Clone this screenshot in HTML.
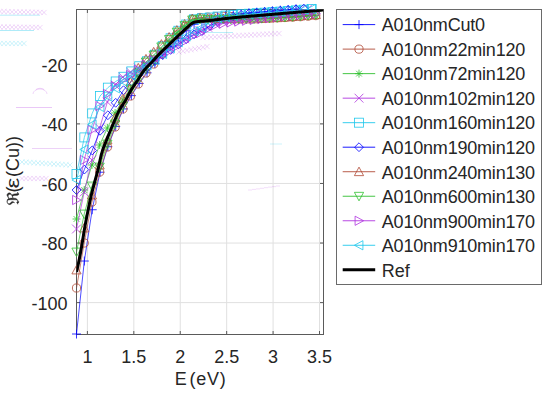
<!DOCTYPE html><html><head><meta charset="utf-8"><style>html,body{margin:0;padding:0;background:#fff;}svg{display:block;} text{font-family:"Liberation Sans",sans-serif;fill:#262626;}</style></head><body>
<svg width="550" height="396" viewBox="0 0 550 396">
<rect width="550" height="396" fill="#fff"/>
<path d="M87.40 9.5V334.5M133.82 9.5V334.5M180.24 9.5V334.5M226.66 9.5V334.5M273.08 9.5V334.5M319.50 9.5V334.5M76.5 64.30H323.5M76.5 123.88H323.5M76.5 183.46H323.5M76.5 243.04H323.5M76.5 302.62H323.5" stroke="#e0e0e0" stroke-width="1" fill="none"/>
<path d="M87.40 334.5V331.0M87.40 9.5V13.0M133.82 334.5V331.0M133.82 9.5V13.0M180.24 334.5V331.0M180.24 9.5V13.0M226.66 334.5V331.0M226.66 9.5V13.0M273.08 334.5V331.0M273.08 9.5V13.0M319.50 334.5V331.0M319.50 9.5V13.0M76.5 64.30H80.0M323.5 64.30H320.0M76.5 123.88H80.0M323.5 123.88H320.0M76.5 183.46H80.0M323.5 183.46H320.0M76.5 243.04H80.0M323.5 243.04H320.0M76.5 302.62H80.0M323.5 302.62H320.0" stroke="#5a5a5a" stroke-width="1" fill="none"/>
<rect x="76.5" y="9.5" width="247.00" height="325.00" stroke="#5a5a5a" stroke-width="1" fill="none"/>
<path d="M-2.6 8.9L2.6 14.1M-2.6 14.1L2.6 8.9M1.4 9.0L6.6 14.2M1.4 14.2L6.6 9.0M5.4 9.1L10.6 14.3M5.4 14.3L10.6 9.1M9.4 9.2L14.6 14.4M9.4 14.4L14.6 9.2M13.4 9.3L18.6 14.5M13.4 14.5L18.6 9.3M17.4 9.4L22.6 14.6M17.4 14.6L22.6 9.4M21.4 9.4L26.6 14.6M21.4 14.6L26.6 9.4M25.4 9.5L30.6 14.7M25.4 14.7L30.6 9.5M29.4 9.6L34.6 14.8M29.4 14.8L34.6 9.6M33.4 9.7L38.6 14.9M33.4 14.9L38.6 9.7M37.4 9.8L42.6 15.0M37.4 15.0L42.6 9.8M41.4 9.9L46.6 15.1M41.4 15.1L46.6 9.9" stroke="#b034e0" stroke-width="0.9" fill="none" opacity="0.22"/>
<path d="M0.0 15.2H4.0M4.0 15.2H8.0M8.0 15.2H12.0M12.0 15.2H16.0M16.0 15.2H20.0M20.0 15.2H24.0M24.0 15.2H28.0M28.0 15.2H32.0M32.0 15.2H36.0M36.0 15.2H40.0" stroke="#20c8ec" stroke-width="0.9" fill="none" opacity="0.35"/>
<path d="M-2.6 24.4L2.6 29.6M-2.6 29.6L2.6 24.4M1.4 24.4L6.6 29.7M1.4 29.7L6.6 24.4M5.4 24.5L10.6 29.7M5.4 29.7L10.6 24.5M9.4 24.5L14.6 29.8M9.4 29.8L14.6 24.5M13.4 24.6L18.6 29.8M13.4 29.8L18.6 24.6M17.4 24.6L22.6 29.9M17.4 29.9L22.6 24.6M21.4 24.7L26.6 29.9M21.4 29.9L26.6 24.7M25.4 24.8L30.6 30.0M25.4 30.0L30.6 24.8M29.4 24.8L34.6 30.0M29.4 30.0L34.6 24.8M33.4 24.8L38.6 30.1M33.4 30.1L38.6 24.8M37.4 24.9L42.6 30.1M37.4 30.1L42.6 24.9" stroke="#b034e0" stroke-width="0.9" fill="none" opacity="0.22"/>
<path d="M-2.0 30.5H2.0M2.0 30.5H6.0M6.0 30.5H10.0M10.0 30.5H14.0M14.0 30.5H18.0M18.0 30.5H22.0M22.0 30.5H26.0M26.0 30.5H30.0M30.0 30.5H34.0" stroke="#20c8ec" stroke-width="0.9" fill="none" opacity="0.4"/>
<path d="M-2.6 40.9L2.6 46.1M-2.6 46.1L2.6 40.9M1.4 40.9L6.6 46.1M1.4 46.1L6.6 40.9M5.4 40.9L10.6 46.1M5.4 46.1L10.6 40.9M9.4 40.9L14.6 46.1M9.4 46.1L14.6 40.9M13.4 40.9L18.6 46.1M13.4 46.1L18.6 40.9M17.4 40.9L22.6 46.1M17.4 46.1L22.6 40.9M21.4 40.9L26.6 46.1M21.4 46.1L26.6 40.9" stroke="#20c8ec" stroke-width="0.9" fill="none" opacity="0.25"/>
<path d="M200.4 34.9L205.6 40.1M200.4 40.1L205.6 34.9M204.4 34.7L209.6 39.9M204.4 39.9L209.6 34.7M208.4 34.5L213.6 39.7M208.4 39.7L213.6 34.5M212.4 34.3L217.6 39.5M212.4 39.5L217.6 34.3M216.4 34.1L221.6 39.3M216.4 39.3L221.6 34.1M220.4 33.8L225.6 39.0M220.4 39.0L225.6 33.8M224.4 33.6L229.6 38.8M224.4 38.8L229.6 33.6M228.4 33.4L233.6 38.6M228.4 38.6L233.6 33.4M232.4 33.2L237.6 38.4M232.4 38.4L237.6 33.2M236.4 33.0L241.6 38.2M236.4 38.2L241.6 33.0M240.4 32.8L245.6 38.0M240.4 38.0L245.6 32.8M244.4 32.6L249.6 37.8M244.4 37.8L249.6 32.6M248.4 32.4L253.6 37.6M248.4 37.6L253.6 32.4M252.4 32.2L257.6 37.4M252.4 37.4L257.6 32.2M256.4 32.0L261.6 37.2M256.4 37.2L261.6 32.0M260.4 31.7L265.6 36.9M260.4 36.9L265.6 31.7M264.4 31.5L269.6 36.7M264.4 36.7L269.6 31.5M268.4 31.3L273.6 36.5M268.4 36.5L273.6 31.3M272.4 31.1L277.6 36.3M272.4 36.3L277.6 31.1M276.4 30.9L281.6 36.1M276.4 36.1L281.6 30.9" stroke="#b034e0" stroke-width="0.9" fill="none" opacity="0.22"/>
<path d="M205.0 32.5H209.0M209.0 32.5H213.0M213.0 32.5H217.0M217.0 32.5H221.0M221.0 32.5H225.0M225.0 32.5H229.0M229.0 32.5H233.0" stroke="#20c8ec" stroke-width="0.9" fill="none" opacity="0.35"/>
<path d="M176.4 49.4L181.6 54.6M176.4 54.6L181.6 49.4M180.4 48.6L185.6 53.8M180.4 53.8L185.6 48.6M184.4 47.8L189.6 53.0M184.4 53.0L189.6 47.8M188.4 47.0L193.6 52.2M188.4 52.2L193.6 47.0M192.4 46.3L197.6 51.5M192.4 51.5L197.6 46.3M196.4 45.5L201.6 50.7M196.4 50.7L201.6 45.5M200.4 44.7L205.6 49.9M200.4 49.9L205.6 44.7M204.4 43.9L209.6 49.1M204.4 49.1L209.6 43.9" stroke="#b034e0" stroke-width="0.9" fill="none" opacity="0.22"/>
<path d="M16.0 107.5H20.0M20.0 107.5H24.0M24.0 107.5H28.0M28.0 107.5H32.0M32.0 107.5H36.0M36.0 107.5H40.0M40.0 107.5H44.0M44.0 107.5H48.0M48.0 107.5H52.0" stroke="#b034e0" stroke-width="0.9" fill="none" opacity="0.3"/>
<path d="M32.0 148.5H36.0M36.0 148.5H40.0M40.0 148.5H44.0M44.0 148.5H48.0M48.0 148.5H52.0M52.0 148.5H56.0M56.0 148.5H60.0M60.0 148.5H64.0M64.0 148.5H68.0M68.0 148.5H72.0" stroke="#b034e0" stroke-width="0.9" fill="none" opacity="0.25"/>
<path d="M19.4 159.4L24.6 164.6M19.4 164.6L24.6 159.4M23.4 159.7L28.6 164.8M23.4 164.8L28.6 159.7M27.4 159.9L32.6 165.1M27.4 165.1L32.6 159.9M31.4 160.2L36.6 165.3M31.4 165.3L36.6 160.2M35.4 160.4L40.6 165.6M35.4 165.6L40.6 160.4M39.4 160.7L44.6 165.8M39.4 165.8L44.6 160.7M43.4 160.9L48.6 166.1M43.4 166.1L48.6 160.9M47.4 161.2L52.6 166.3M47.4 166.3L52.6 161.2M51.4 161.4L56.6 166.6M51.4 166.6L56.6 161.4M55.4 161.7L60.6 166.8M55.4 166.8L60.6 161.7M59.4 161.9L64.6 167.1M59.4 167.1L64.6 161.9M63.4 162.2L68.6 167.3M63.4 167.3L68.6 162.2M67.4 162.4L72.6 167.6M67.4 167.6L72.6 162.4" stroke="#20c8ec" stroke-width="0.9" fill="none" opacity="0.25"/>
<path d="M19.4 175.9L24.6 181.1M19.4 181.1L24.6 175.9M23.4 175.9L28.6 181.1M23.4 181.1L28.6 175.9M27.4 175.9L32.6 181.1M27.4 181.1L32.6 175.9M31.4 175.9L36.6 181.1M31.4 181.1L36.6 175.9M35.4 175.9L40.6 181.1M35.4 181.1L40.6 175.9M39.4 175.9L44.6 181.1M39.4 181.1L44.6 175.9M43.4 175.9L48.6 181.1M43.4 181.1L48.6 175.9" stroke="#b034e0" stroke-width="0.9" fill="none" opacity="0.22"/>
<path d="M33 94A7 5 0 0 1 47 94M36 89.5A5 3 0 0 1 44 89.5" stroke="#b034e0" stroke-width="0.9" fill="none" opacity="0.22"/>
<path d="M248.0 190.0H252.0M252.0 189.4H256.0M256.0 188.9H260.0M260.0 188.3H264.0M264.0 187.7H268.0M268.0 187.1H272.0M272.0 186.6H276.0M276.0 186.0H280.0" stroke="#b034e0" stroke-width="0.9" fill="none" opacity="0.18"/>
<path d="M270.0 144.0H274.0M274.0 144.0H278.0M278.0 144.0H282.0" stroke="#20c8ec" stroke-width="0.9" fill="none" opacity="0.25"/>
<defs><clipPath id="c"><rect x="76.5" y="9.5" width="247.0" height="325.0"/></clipPath></defs>
<path d="M76.50 334.00L84.34 261.02L92.18 209.74L100.02 172.22L107.85 146.71L115.69 126.44L123.53 108.93L131.37 95.60L139.21 83.45L147.05 72.82L154.89 63.58L162.73 54.65L170.56 46.54L178.40 38.48L186.24 30.76L194.08 24.32L201.92 21.71L209.76 18.74L217.60 16.57L225.44 15.35L233.27 14.38L241.11 13.56L248.95 12.84L256.79 12.18L264.63 11.50L272.47 10.83L280.31 10.16L288.15 9.50L295.98 8.85L303.82 8.27L311.66 7.74L319.50 7.24" stroke="#0000ff" stroke-width="0.7" fill="none" clip-path="url(#c)"/>
<path d="M72.00 334.00H81.00M76.50 329.50V338.50" stroke="#0000ff" stroke-width="0.8" fill="none"/>
<path d="M79.84 261.02H88.84M84.34 256.52V265.52" stroke="#0000ff" stroke-width="0.8" fill="none"/>
<path d="M87.68 209.74H96.68M92.18 205.24V214.24" stroke="#0000ff" stroke-width="0.8" fill="none"/>
<path d="M95.52 172.22H104.52M100.02 167.72V176.72" stroke="#0000ff" stroke-width="0.8" fill="none"/>
<path d="M103.35 146.71H112.35M107.85 142.21V151.21" stroke="#0000ff" stroke-width="0.8" fill="none"/>
<path d="M111.19 126.44H120.19M115.69 121.94V130.94" stroke="#0000ff" stroke-width="0.8" fill="none"/>
<path d="M119.03 108.93H128.03M123.53 104.43V113.43" stroke="#0000ff" stroke-width="0.8" fill="none"/>
<path d="M126.87 95.60H135.87M131.37 91.10V100.10" stroke="#0000ff" stroke-width="0.8" fill="none"/>
<path d="M134.71 83.45H143.71M139.21 78.95V87.95" stroke="#0000ff" stroke-width="0.8" fill="none"/>
<path d="M142.55 72.82H151.55M147.05 68.32V77.32" stroke="#0000ff" stroke-width="0.8" fill="none"/>
<path d="M150.39 63.58H159.39M154.89 59.08V68.08" stroke="#0000ff" stroke-width="0.8" fill="none"/>
<path d="M158.23 54.65H167.23M162.73 50.15V59.15" stroke="#0000ff" stroke-width="0.8" fill="none"/>
<path d="M166.06 46.54H175.06M170.56 42.04V51.04" stroke="#0000ff" stroke-width="0.8" fill="none"/>
<path d="M173.90 38.48H182.90M178.40 33.98V42.98" stroke="#0000ff" stroke-width="0.8" fill="none"/>
<path d="M181.74 30.76H190.74M186.24 26.26V35.26" stroke="#0000ff" stroke-width="0.8" fill="none"/>
<path d="M189.58 24.32H198.58M194.08 19.82V28.82" stroke="#0000ff" stroke-width="0.8" fill="none"/>
<path d="M197.42 21.71H206.42M201.92 17.21V26.21" stroke="#0000ff" stroke-width="0.8" fill="none"/>
<path d="M205.26 18.74H214.26M209.76 14.24V23.24" stroke="#0000ff" stroke-width="0.8" fill="none"/>
<path d="M213.10 16.57H222.10M217.60 12.07V21.07" stroke="#0000ff" stroke-width="0.8" fill="none"/>
<path d="M220.94 15.35H229.94M225.44 10.85V19.85" stroke="#0000ff" stroke-width="0.8" fill="none"/>
<path d="M228.77 14.38H237.77M233.27 9.88V18.88" stroke="#0000ff" stroke-width="0.8" fill="none"/>
<path d="M236.61 13.56H245.61M241.11 9.06V18.06" stroke="#0000ff" stroke-width="0.8" fill="none"/>
<path d="M244.45 12.84H253.45M248.95 8.34V17.34" stroke="#0000ff" stroke-width="0.8" fill="none"/>
<path d="M252.29 12.18H261.29M256.79 7.68V16.68" stroke="#0000ff" stroke-width="0.8" fill="none"/>
<path d="M260.13 11.50H269.13M264.63 7.00V16.00" stroke="#0000ff" stroke-width="0.8" fill="none"/>
<path d="M267.97 10.83H276.97M272.47 6.33V15.33" stroke="#0000ff" stroke-width="0.8" fill="none"/>
<path d="M275.81 10.16H284.81M280.31 5.66V14.66" stroke="#0000ff" stroke-width="0.8" fill="none"/>
<path d="M283.65 9.50H292.65M288.15 5.00V14.00" stroke="#0000ff" stroke-width="0.8" fill="none"/>
<path d="M291.48 8.85H300.48M295.98 4.35V13.35" stroke="#0000ff" stroke-width="0.8" fill="none"/>
<path d="M76.50 288.00L84.22 243.00L91.94 202.01L99.66 172.01L107.38 147.01L115.10 127.01L122.82 109.01L130.54 96.01L138.25 84.01L145.97 73.01L153.69 64.01L161.41 53.87L169.13 44.04L176.85 34.90L184.57 26.53L192.29 19.15L200.01 17.48L207.73 17.14L215.45 16.73L223.17 16.35L230.89 16.52L238.61 17.03L246.33 17.57L254.05 17.86L261.76 17.89L269.48 17.86L277.20 17.76L284.92 17.54L292.64 17.15L300.36 16.67L308.08 16.17L315.80 15.62" stroke="#b04a36" stroke-width="0.7" fill="none" clip-path="url(#c)"/>
<circle cx="76.50" cy="288.00" r="4.1" stroke="#b04a36" stroke-width="0.8" fill="none"/>
<circle cx="84.22" cy="243.00" r="4.1" stroke="#b04a36" stroke-width="0.8" fill="none"/>
<circle cx="91.94" cy="202.01" r="4.1" stroke="#b04a36" stroke-width="0.8" fill="none"/>
<circle cx="99.66" cy="172.01" r="4.1" stroke="#b04a36" stroke-width="0.8" fill="none"/>
<circle cx="107.38" cy="147.01" r="4.1" stroke="#b04a36" stroke-width="0.8" fill="none"/>
<circle cx="115.10" cy="127.01" r="4.1" stroke="#b04a36" stroke-width="0.8" fill="none"/>
<circle cx="122.82" cy="109.01" r="4.1" stroke="#b04a36" stroke-width="0.8" fill="none"/>
<circle cx="130.54" cy="96.01" r="4.1" stroke="#b04a36" stroke-width="0.8" fill="none"/>
<circle cx="138.25" cy="84.01" r="4.1" stroke="#b04a36" stroke-width="0.8" fill="none"/>
<circle cx="145.97" cy="73.01" r="4.1" stroke="#b04a36" stroke-width="0.8" fill="none"/>
<circle cx="153.69" cy="64.01" r="4.1" stroke="#b04a36" stroke-width="0.8" fill="none"/>
<circle cx="161.41" cy="53.87" r="4.1" stroke="#b04a36" stroke-width="0.8" fill="none"/>
<circle cx="169.13" cy="44.04" r="4.1" stroke="#b04a36" stroke-width="0.8" fill="none"/>
<circle cx="176.85" cy="34.90" r="4.1" stroke="#b04a36" stroke-width="0.8" fill="none"/>
<circle cx="184.57" cy="26.53" r="4.1" stroke="#b04a36" stroke-width="0.8" fill="none"/>
<circle cx="192.29" cy="19.15" r="4.1" stroke="#b04a36" stroke-width="0.8" fill="none"/>
<circle cx="200.01" cy="17.48" r="4.1" stroke="#b04a36" stroke-width="0.8" fill="none"/>
<circle cx="207.73" cy="17.14" r="4.1" stroke="#b04a36" stroke-width="0.8" fill="none"/>
<circle cx="215.45" cy="16.73" r="4.1" stroke="#b04a36" stroke-width="0.8" fill="none"/>
<circle cx="223.17" cy="16.35" r="4.1" stroke="#b04a36" stroke-width="0.8" fill="none"/>
<circle cx="230.89" cy="16.52" r="4.1" stroke="#b04a36" stroke-width="0.8" fill="none"/>
<circle cx="238.61" cy="17.03" r="4.1" stroke="#b04a36" stroke-width="0.8" fill="none"/>
<circle cx="246.33" cy="17.57" r="4.1" stroke="#b04a36" stroke-width="0.8" fill="none"/>
<circle cx="254.05" cy="17.86" r="4.1" stroke="#b04a36" stroke-width="0.8" fill="none"/>
<circle cx="261.76" cy="17.89" r="4.1" stroke="#b04a36" stroke-width="0.8" fill="none"/>
<circle cx="269.48" cy="17.86" r="4.1" stroke="#b04a36" stroke-width="0.8" fill="none"/>
<circle cx="277.20" cy="17.76" r="4.1" stroke="#b04a36" stroke-width="0.8" fill="none"/>
<circle cx="284.92" cy="17.54" r="4.1" stroke="#b04a36" stroke-width="0.8" fill="none"/>
<circle cx="292.64" cy="17.15" r="4.1" stroke="#b04a36" stroke-width="0.8" fill="none"/>
<circle cx="300.36" cy="16.67" r="4.1" stroke="#b04a36" stroke-width="0.8" fill="none"/>
<circle cx="308.08" cy="16.17" r="4.1" stroke="#b04a36" stroke-width="0.8" fill="none"/>
<circle cx="315.80" cy="15.62" r="4.1" stroke="#b04a36" stroke-width="0.8" fill="none"/>
<path d="M76.50 219.00L84.22 190.00L91.94 165.00L99.66 145.01L107.38 128.00L115.10 113.01L122.82 100.00L130.54 89.01L138.25 79.01L145.97 70.01L153.69 62.01L161.41 52.14L169.13 41.78L176.85 33.11L184.57 26.58L192.29 20.92L200.01 19.93L207.73 19.93L215.45 19.69L223.17 19.33L230.89 19.15L238.61 19.09L246.33 19.03L254.05 18.88L261.76 18.62L269.48 18.33L277.20 17.99L284.92 17.60L292.64 17.14L300.36 16.65L308.08 16.14L315.80 15.60" stroke="#30c030" stroke-width="0.7" fill="none" clip-path="url(#c)"/>
<path d="M72.50 219.00H80.50M76.50 215.00V223.00M73.67 216.17L79.33 221.83M73.67 221.83L79.33 216.17" stroke="#30c030" stroke-width="0.8" fill="none"/>
<path d="M80.22 190.00H88.22M84.22 186.00V194.00M81.39 187.17L87.05 192.83M81.39 192.83L87.05 187.17" stroke="#30c030" stroke-width="0.8" fill="none"/>
<path d="M87.94 165.00H95.94M91.94 161.00V169.00M89.11 162.18L94.77 167.83M89.11 167.83L94.77 162.18" stroke="#30c030" stroke-width="0.8" fill="none"/>
<path d="M95.66 145.01H103.66M99.66 141.01V149.01M96.83 142.18L102.49 147.84M96.83 147.84L102.49 142.18" stroke="#30c030" stroke-width="0.8" fill="none"/>
<path d="M103.38 128.00H111.38M107.38 124.00V132.00M104.55 125.18L110.21 130.83M104.55 130.83L110.21 125.18" stroke="#30c030" stroke-width="0.8" fill="none"/>
<path d="M111.10 113.01H119.10M115.10 109.01V117.01M112.27 110.18L117.93 115.83M112.27 115.83L117.93 110.18" stroke="#30c030" stroke-width="0.8" fill="none"/>
<path d="M118.82 100.00H126.82M122.82 96.00V104.00M119.99 97.18L125.64 102.83M119.99 102.83L125.64 97.18" stroke="#30c030" stroke-width="0.8" fill="none"/>
<path d="M126.54 89.01H134.54M130.54 85.01V93.01M127.71 86.18L133.36 91.84M127.71 91.84L133.36 86.18" stroke="#30c030" stroke-width="0.8" fill="none"/>
<path d="M134.25 79.01H142.25M138.25 75.01V83.01M135.43 76.18L141.08 81.84M135.43 81.84L141.08 76.18" stroke="#30c030" stroke-width="0.8" fill="none"/>
<path d="M141.97 70.01H149.97M145.97 66.01V74.01M143.15 67.18L148.80 72.83M143.15 72.83L148.80 67.18" stroke="#30c030" stroke-width="0.8" fill="none"/>
<path d="M149.69 62.01H157.69M153.69 58.01V66.01M150.87 59.18L156.52 64.84M150.87 64.84L156.52 59.18" stroke="#30c030" stroke-width="0.8" fill="none"/>
<path d="M157.41 52.14H165.41M161.41 48.14V56.14M158.58 49.31L164.24 54.97M158.58 54.97L164.24 49.31" stroke="#30c030" stroke-width="0.8" fill="none"/>
<path d="M165.13 41.78H173.13M169.13 37.78V45.78M166.30 38.95L171.96 44.60M166.30 44.60L171.96 38.95" stroke="#30c030" stroke-width="0.8" fill="none"/>
<path d="M172.85 33.11H180.85M176.85 29.11V37.11M174.02 30.28L179.68 35.94M174.02 35.94L179.68 30.28" stroke="#30c030" stroke-width="0.8" fill="none"/>
<path d="M180.57 26.58H188.57M184.57 22.58V30.58M181.74 23.75L187.40 29.40M181.74 29.40L187.40 23.75" stroke="#30c030" stroke-width="0.8" fill="none"/>
<path d="M188.29 20.92H196.29M192.29 16.92V24.92M189.46 18.09L195.12 23.75M189.46 23.75L195.12 18.09" stroke="#30c030" stroke-width="0.8" fill="none"/>
<path d="M196.01 19.93H204.01M200.01 15.93V23.93M197.18 17.10L202.84 22.76M197.18 22.76L202.84 17.10" stroke="#30c030" stroke-width="0.8" fill="none"/>
<path d="M203.73 19.93H211.73M207.73 15.93V23.93M204.90 17.10L210.56 22.75M204.90 22.75L210.56 17.10" stroke="#30c030" stroke-width="0.8" fill="none"/>
<path d="M211.45 19.69H219.45M215.45 15.69V23.69M212.62 16.86L218.28 22.52M212.62 22.52L218.28 16.86" stroke="#30c030" stroke-width="0.8" fill="none"/>
<path d="M219.17 19.33H227.17M223.17 15.33V23.33M220.34 16.50L226.00 22.16M220.34 22.16L226.00 16.50" stroke="#30c030" stroke-width="0.8" fill="none"/>
<path d="M226.89 19.15H234.89M230.89 15.15V23.15M228.06 16.32L233.72 21.97M228.06 21.97L233.72 16.32" stroke="#30c030" stroke-width="0.8" fill="none"/>
<path d="M234.61 19.09H242.61M238.61 15.09V23.09M235.78 16.26L241.43 21.92M235.78 21.92L241.43 16.26" stroke="#30c030" stroke-width="0.8" fill="none"/>
<path d="M242.33 19.03H250.33M246.33 15.03V23.03M243.50 16.20L249.15 21.86M243.50 21.86L249.15 16.20" stroke="#30c030" stroke-width="0.8" fill="none"/>
<path d="M250.05 18.88H258.05M254.05 14.88V22.88M251.22 16.05L256.87 21.71M251.22 21.71L256.87 16.05" stroke="#30c030" stroke-width="0.8" fill="none"/>
<path d="M257.76 18.62H265.76M261.76 14.62V22.62M258.94 15.80L264.59 21.45M258.94 21.45L264.59 15.80" stroke="#30c030" stroke-width="0.8" fill="none"/>
<path d="M265.48 18.33H273.48M269.48 14.33V22.33M266.66 15.50L272.31 21.15M266.66 21.15L272.31 15.50" stroke="#30c030" stroke-width="0.8" fill="none"/>
<path d="M273.20 17.99H281.20M277.20 13.99V21.99M274.37 15.16L280.03 20.82M274.37 20.82L280.03 15.16" stroke="#30c030" stroke-width="0.8" fill="none"/>
<path d="M280.92 17.60H288.92M284.92 13.60V21.60M282.09 14.77L287.75 20.43M282.09 20.43L287.75 14.77" stroke="#30c030" stroke-width="0.8" fill="none"/>
<path d="M288.64 17.14H296.64M292.64 13.14V21.14M289.81 14.32L295.47 19.97M289.81 19.97L295.47 14.32" stroke="#30c030" stroke-width="0.8" fill="none"/>
<path d="M296.36 16.65H304.36M300.36 12.65V20.65M297.53 13.83L303.19 19.48M297.53 19.48L303.19 13.83" stroke="#30c030" stroke-width="0.8" fill="none"/>
<path d="M304.08 16.14H312.08M308.08 12.14V20.14M305.25 13.31L310.91 18.97M305.25 18.97L310.91 13.31" stroke="#30c030" stroke-width="0.8" fill="none"/>
<path d="M311.80 15.60H319.80M315.80 11.60V19.60M312.97 12.77L318.63 18.42M312.97 18.42L318.63 12.77" stroke="#30c030" stroke-width="0.8" fill="none"/>
<path d="M76.50 229.00L84.22 192.00L91.94 160.01L99.66 128.01L107.38 102.01L115.10 85.01L122.82 77.00L130.54 72.00L138.25 68.00L145.97 63.00L153.69 58.00L161.41 53.30L169.13 49.43L176.85 44.38L184.57 38.82L192.29 33.07L200.01 30.54L207.73 27.28L215.45 24.12L223.17 22.37L230.89 21.06L238.61 20.02L246.33 19.03L254.05 17.94L261.76 16.57L269.48 14.94L277.20 13.28L284.92 11.76L292.64 10.58L300.36 9.57L308.08 8.62L315.80 7.75" stroke="#b034e0" stroke-width="0.7" fill="none" clip-path="url(#c)"/>
<path d="M72.10 224.60L80.90 233.40M72.10 233.40L80.90 224.60" stroke="#b034e0" stroke-width="0.8" fill="none"/>
<path d="M79.82 187.60L88.62 196.40M79.82 196.40L88.62 187.60" stroke="#b034e0" stroke-width="0.8" fill="none"/>
<path d="M87.54 155.61L96.34 164.41M87.54 164.41L96.34 155.61" stroke="#b034e0" stroke-width="0.8" fill="none"/>
<path d="M95.26 123.61L104.06 132.41M95.26 132.41L104.06 123.61" stroke="#b034e0" stroke-width="0.8" fill="none"/>
<path d="M102.98 97.61L111.78 106.41M102.98 106.41L111.78 97.61" stroke="#b034e0" stroke-width="0.8" fill="none"/>
<path d="M110.70 80.61L119.50 89.41M110.70 89.41L119.50 80.61" stroke="#b034e0" stroke-width="0.8" fill="none"/>
<path d="M118.42 72.60L127.22 81.40M118.42 81.40L127.22 72.60" stroke="#b034e0" stroke-width="0.8" fill="none"/>
<path d="M126.14 67.60L134.94 76.40M126.14 76.40L134.94 67.60" stroke="#b034e0" stroke-width="0.8" fill="none"/>
<path d="M133.85 63.60L142.65 72.40M133.85 72.40L142.65 63.60" stroke="#b034e0" stroke-width="0.8" fill="none"/>
<path d="M141.57 58.60L150.37 67.40M141.57 67.40L150.37 58.60" stroke="#b034e0" stroke-width="0.8" fill="none"/>
<path d="M149.29 53.60L158.09 62.40M149.29 62.40L158.09 53.60" stroke="#b034e0" stroke-width="0.8" fill="none"/>
<path d="M157.01 48.90L165.81 57.70M157.01 57.70L165.81 48.90" stroke="#b034e0" stroke-width="0.8" fill="none"/>
<path d="M164.73 45.03L173.53 53.83M164.73 53.83L173.53 45.03" stroke="#b034e0" stroke-width="0.8" fill="none"/>
<path d="M172.45 39.98L181.25 48.78M172.45 48.78L181.25 39.98" stroke="#b034e0" stroke-width="0.8" fill="none"/>
<path d="M180.17 34.42L188.97 43.22M180.17 43.22L188.97 34.42" stroke="#b034e0" stroke-width="0.8" fill="none"/>
<path d="M187.89 28.67L196.69 37.47M187.89 37.47L196.69 28.67" stroke="#b034e0" stroke-width="0.8" fill="none"/>
<path d="M195.61 26.14L204.41 34.94M195.61 34.94L204.41 26.14" stroke="#b034e0" stroke-width="0.8" fill="none"/>
<path d="M203.33 22.88L212.13 31.68M203.33 31.68L212.13 22.88" stroke="#b034e0" stroke-width="0.8" fill="none"/>
<path d="M211.05 19.72L219.85 28.52M211.05 28.52L219.85 19.72" stroke="#b034e0" stroke-width="0.8" fill="none"/>
<path d="M218.77 17.97L227.57 26.77M218.77 26.77L227.57 17.97" stroke="#b034e0" stroke-width="0.8" fill="none"/>
<path d="M226.49 16.66L235.29 25.46M226.49 25.46L235.29 16.66" stroke="#b034e0" stroke-width="0.8" fill="none"/>
<path d="M234.21 15.62L243.01 24.42M234.21 24.42L243.01 15.62" stroke="#b034e0" stroke-width="0.8" fill="none"/>
<path d="M241.93 14.63L250.73 23.43M241.93 23.43L250.73 14.63" stroke="#b034e0" stroke-width="0.8" fill="none"/>
<path d="M249.65 13.54L258.45 22.34M249.65 22.34L258.45 13.54" stroke="#b034e0" stroke-width="0.8" fill="none"/>
<path d="M257.36 12.17L266.16 20.97M257.36 20.97L266.16 12.17" stroke="#b034e0" stroke-width="0.8" fill="none"/>
<path d="M265.08 10.54L273.88 19.34M265.08 19.34L273.88 10.54" stroke="#b034e0" stroke-width="0.8" fill="none"/>
<path d="M272.80 8.88L281.60 17.68M272.80 17.68L281.60 8.88" stroke="#b034e0" stroke-width="0.8" fill="none"/>
<path d="M280.52 7.36L289.32 16.16M280.52 16.16L289.32 7.36" stroke="#b034e0" stroke-width="0.8" fill="none"/>
<path d="M288.24 6.18L297.04 14.98M288.24 14.98L297.04 6.18" stroke="#b034e0" stroke-width="0.8" fill="none"/>
<path d="M295.96 5.17L304.76 13.97M295.96 13.97L304.76 5.17" stroke="#b034e0" stroke-width="0.8" fill="none"/>
<path d="M303.68 4.22L312.48 13.02M303.68 13.02L312.48 4.22" stroke="#b034e0" stroke-width="0.8" fill="none"/>
<path d="M76.50 174.00L84.34 137.41L92.18 113.43L100.02 96.02L107.85 87.65L115.69 81.46L123.53 76.76L131.37 71.41L139.21 66.27L147.05 61.27L154.89 54.69L162.73 46.21L170.56 38.30L178.40 30.77L186.24 24.50L194.08 19.32L201.92 18.25L209.76 17.53L217.60 16.57L225.44 15.59L233.27 14.86L241.11 14.28L248.95 13.75L256.79 13.21L264.63 12.66L272.47 12.13L280.31 11.58L288.15 10.99L295.98 10.34L303.82 9.68L311.66 9.01L319.50 8.35" stroke="#20c8ec" stroke-width="0.7" fill="none" clip-path="url(#c)"/>
<rect x="72.00" y="169.50" width="9.00" height="9.00" stroke="#20c8ec" stroke-width="0.8" fill="none"/>
<rect x="79.84" y="132.91" width="9.00" height="9.00" stroke="#20c8ec" stroke-width="0.8" fill="none"/>
<rect x="87.68" y="108.93" width="9.00" height="9.00" stroke="#20c8ec" stroke-width="0.8" fill="none"/>
<rect x="95.52" y="91.52" width="9.00" height="9.00" stroke="#20c8ec" stroke-width="0.8" fill="none"/>
<rect x="103.35" y="83.15" width="9.00" height="9.00" stroke="#20c8ec" stroke-width="0.8" fill="none"/>
<rect x="111.19" y="76.96" width="9.00" height="9.00" stroke="#20c8ec" stroke-width="0.8" fill="none"/>
<rect x="119.03" y="72.26" width="9.00" height="9.00" stroke="#20c8ec" stroke-width="0.8" fill="none"/>
<rect x="126.87" y="66.91" width="9.00" height="9.00" stroke="#20c8ec" stroke-width="0.8" fill="none"/>
<rect x="134.71" y="61.77" width="9.00" height="9.00" stroke="#20c8ec" stroke-width="0.8" fill="none"/>
<rect x="142.55" y="56.77" width="9.00" height="9.00" stroke="#20c8ec" stroke-width="0.8" fill="none"/>
<rect x="150.39" y="50.19" width="9.00" height="9.00" stroke="#20c8ec" stroke-width="0.8" fill="none"/>
<rect x="158.23" y="41.71" width="9.00" height="9.00" stroke="#20c8ec" stroke-width="0.8" fill="none"/>
<rect x="166.06" y="33.80" width="9.00" height="9.00" stroke="#20c8ec" stroke-width="0.8" fill="none"/>
<rect x="173.90" y="26.27" width="9.00" height="9.00" stroke="#20c8ec" stroke-width="0.8" fill="none"/>
<rect x="181.74" y="20.00" width="9.00" height="9.00" stroke="#20c8ec" stroke-width="0.8" fill="none"/>
<rect x="189.58" y="14.82" width="9.00" height="9.00" stroke="#20c8ec" stroke-width="0.8" fill="none"/>
<rect x="197.42" y="13.75" width="9.00" height="9.00" stroke="#20c8ec" stroke-width="0.8" fill="none"/>
<rect x="205.26" y="13.03" width="9.00" height="9.00" stroke="#20c8ec" stroke-width="0.8" fill="none"/>
<rect x="213.10" y="12.07" width="9.00" height="9.00" stroke="#20c8ec" stroke-width="0.8" fill="none"/>
<rect x="220.94" y="11.09" width="9.00" height="9.00" stroke="#20c8ec" stroke-width="0.8" fill="none"/>
<rect x="228.77" y="10.36" width="9.00" height="9.00" stroke="#20c8ec" stroke-width="0.8" fill="none"/>
<rect x="236.61" y="9.78" width="9.00" height="9.00" stroke="#20c8ec" stroke-width="0.8" fill="none"/>
<rect x="244.45" y="9.25" width="9.00" height="9.00" stroke="#20c8ec" stroke-width="0.8" fill="none"/>
<rect x="252.29" y="8.71" width="9.00" height="9.00" stroke="#20c8ec" stroke-width="0.8" fill="none"/>
<rect x="260.13" y="8.16" width="9.00" height="9.00" stroke="#20c8ec" stroke-width="0.8" fill="none"/>
<rect x="267.97" y="7.63" width="9.00" height="9.00" stroke="#20c8ec" stroke-width="0.8" fill="none"/>
<rect x="275.81" y="7.08" width="9.00" height="9.00" stroke="#20c8ec" stroke-width="0.8" fill="none"/>
<rect x="283.65" y="6.49" width="9.00" height="9.00" stroke="#20c8ec" stroke-width="0.8" fill="none"/>
<rect x="291.48" y="5.84" width="9.00" height="9.00" stroke="#20c8ec" stroke-width="0.8" fill="none"/>
<rect x="299.32" y="5.18" width="9.00" height="9.00" stroke="#20c8ec" stroke-width="0.8" fill="none"/>
<rect x="307.16" y="4.51" width="9.00" height="9.00" stroke="#20c8ec" stroke-width="0.8" fill="none"/>
<path d="M76.50 190.00L84.34 169.60L92.18 150.45L100.02 130.79L107.85 115.26L115.69 102.82L123.53 90.19L131.37 81.12L139.21 74.00L147.05 67.21L154.89 61.02L162.73 55.10L170.56 49.88L178.40 44.38L186.24 39.18L194.08 34.32L201.92 31.02L209.76 25.78L217.60 21.52L225.44 18.89L233.27 16.64L241.11 14.82L248.95 13.48L256.79 12.68L264.63 12.00L272.47 11.33L280.31 10.66L288.15 10.00L295.98 9.34L303.82 8.68L311.66 8.01L319.50 7.35" stroke="#0000ff" stroke-width="0.7" fill="none" clip-path="url(#c)"/>
<path d="M76.50 185.60L80.90 190.00L76.50 194.40L72.10 190.00Z" stroke="#0000ff" stroke-width="0.8" fill="none"/>
<path d="M84.34 165.20L88.74 169.60L84.34 174.00L79.94 169.60Z" stroke="#0000ff" stroke-width="0.8" fill="none"/>
<path d="M92.18 146.05L96.58 150.45L92.18 154.85L87.78 150.45Z" stroke="#0000ff" stroke-width="0.8" fill="none"/>
<path d="M100.02 126.39L104.42 130.79L100.02 135.19L95.62 130.79Z" stroke="#0000ff" stroke-width="0.8" fill="none"/>
<path d="M107.85 110.86L112.25 115.26L107.85 119.66L103.45 115.26Z" stroke="#0000ff" stroke-width="0.8" fill="none"/>
<path d="M115.69 98.42L120.09 102.82L115.69 107.22L111.29 102.82Z" stroke="#0000ff" stroke-width="0.8" fill="none"/>
<path d="M123.53 85.79L127.93 90.19L123.53 94.59L119.13 90.19Z" stroke="#0000ff" stroke-width="0.8" fill="none"/>
<path d="M131.37 76.72L135.77 81.12L131.37 85.52L126.97 81.12Z" stroke="#0000ff" stroke-width="0.8" fill="none"/>
<path d="M139.21 69.60L143.61 74.00L139.21 78.40L134.81 74.00Z" stroke="#0000ff" stroke-width="0.8" fill="none"/>
<path d="M147.05 62.81L151.45 67.21L147.05 71.61L142.65 67.21Z" stroke="#0000ff" stroke-width="0.8" fill="none"/>
<path d="M154.89 56.62L159.29 61.02L154.89 65.42L150.49 61.02Z" stroke="#0000ff" stroke-width="0.8" fill="none"/>
<path d="M162.73 50.70L167.13 55.10L162.73 59.50L158.33 55.10Z" stroke="#0000ff" stroke-width="0.8" fill="none"/>
<path d="M170.56 45.48L174.96 49.88L170.56 54.28L166.16 49.88Z" stroke="#0000ff" stroke-width="0.8" fill="none"/>
<path d="M178.40 39.98L182.80 44.38L178.40 48.78L174.00 44.38Z" stroke="#0000ff" stroke-width="0.8" fill="none"/>
<path d="M186.24 34.78L190.64 39.18L186.24 43.58L181.84 39.18Z" stroke="#0000ff" stroke-width="0.8" fill="none"/>
<path d="M194.08 29.92L198.48 34.32L194.08 38.72L189.68 34.32Z" stroke="#0000ff" stroke-width="0.8" fill="none"/>
<path d="M201.92 26.62L206.32 31.02L201.92 35.42L197.52 31.02Z" stroke="#0000ff" stroke-width="0.8" fill="none"/>
<path d="M209.76 21.38L214.16 25.78L209.76 30.18L205.36 25.78Z" stroke="#0000ff" stroke-width="0.8" fill="none"/>
<path d="M217.60 17.12L222.00 21.52L217.60 25.92L213.20 21.52Z" stroke="#0000ff" stroke-width="0.8" fill="none"/>
<path d="M225.44 14.49L229.84 18.89L225.44 23.29L221.04 18.89Z" stroke="#0000ff" stroke-width="0.8" fill="none"/>
<path d="M233.27 12.24L237.67 16.64L233.27 21.04L228.87 16.64Z" stroke="#0000ff" stroke-width="0.8" fill="none"/>
<path d="M241.11 10.42L245.51 14.82L241.11 19.22L236.71 14.82Z" stroke="#0000ff" stroke-width="0.8" fill="none"/>
<path d="M248.95 9.08L253.35 13.48L248.95 17.88L244.55 13.48Z" stroke="#0000ff" stroke-width="0.8" fill="none"/>
<path d="M256.79 8.28L261.19 12.68L256.79 17.08L252.39 12.68Z" stroke="#0000ff" stroke-width="0.8" fill="none"/>
<path d="M264.63 7.60L269.03 12.00L264.63 16.40L260.23 12.00Z" stroke="#0000ff" stroke-width="0.8" fill="none"/>
<path d="M272.47 6.93L276.87 11.33L272.47 15.73L268.07 11.33Z" stroke="#0000ff" stroke-width="0.8" fill="none"/>
<path d="M280.31 6.26L284.71 10.66L280.31 15.06L275.91 10.66Z" stroke="#0000ff" stroke-width="0.8" fill="none"/>
<path d="M288.15 5.60L292.55 10.00L288.15 14.40L283.75 10.00Z" stroke="#0000ff" stroke-width="0.8" fill="none"/>
<path d="M295.98 4.94L300.38 9.34L295.98 13.74L291.58 9.34Z" stroke="#0000ff" stroke-width="0.8" fill="none"/>
<path d="M303.82 4.28L308.22 8.68L303.82 13.08L299.42 8.68Z" stroke="#0000ff" stroke-width="0.8" fill="none"/>
<path d="M76.50 270.00L84.22 228.00L91.94 195.01L99.66 165.01L107.38 140.01L115.10 118.01L122.82 99.01L130.54 82.01L138.25 68.01L145.97 59.01L153.69 52.01L161.41 44.25L169.13 37.17L176.85 30.20L184.57 24.12L192.29 18.83L200.01 18.21L207.73 18.55L215.45 18.62L223.17 18.55L230.89 18.67L238.61 18.89L246.33 19.01L254.05 18.89L261.76 18.55L269.48 18.17L277.20 17.74L284.92 17.23L292.64 16.62L300.36 15.97L308.08 15.31L315.80 14.66" stroke="#b04a36" stroke-width="0.7" fill="none" clip-path="url(#c)"/>
<path d="M76.50 265.40L81.10 273.91L71.90 273.91Z" stroke="#b04a36" stroke-width="0.8" fill="none"/>
<path d="M84.22 223.40L88.82 231.91L79.62 231.91Z" stroke="#b04a36" stroke-width="0.8" fill="none"/>
<path d="M91.94 190.41L96.54 198.92L87.34 198.92Z" stroke="#b04a36" stroke-width="0.8" fill="none"/>
<path d="M99.66 160.41L104.26 168.92L95.06 168.92Z" stroke="#b04a36" stroke-width="0.8" fill="none"/>
<path d="M107.38 135.41L111.98 143.92L102.78 143.92Z" stroke="#b04a36" stroke-width="0.8" fill="none"/>
<path d="M115.10 113.41L119.70 121.92L110.50 121.92Z" stroke="#b04a36" stroke-width="0.8" fill="none"/>
<path d="M122.82 94.41L127.42 102.92L118.22 102.92Z" stroke="#b04a36" stroke-width="0.8" fill="none"/>
<path d="M130.54 77.41L135.14 85.92L125.94 85.92Z" stroke="#b04a36" stroke-width="0.8" fill="none"/>
<path d="M138.25 63.41L142.85 71.92L133.65 71.92Z" stroke="#b04a36" stroke-width="0.8" fill="none"/>
<path d="M145.97 54.41L150.57 62.92L141.37 62.92Z" stroke="#b04a36" stroke-width="0.8" fill="none"/>
<path d="M153.69 47.41L158.29 55.92L149.09 55.92Z" stroke="#b04a36" stroke-width="0.8" fill="none"/>
<path d="M161.41 39.65L166.01 48.16L156.81 48.16Z" stroke="#b04a36" stroke-width="0.8" fill="none"/>
<path d="M169.13 32.57L173.73 41.08L164.53 41.08Z" stroke="#b04a36" stroke-width="0.8" fill="none"/>
<path d="M176.85 25.60L181.45 34.11L172.25 34.11Z" stroke="#b04a36" stroke-width="0.8" fill="none"/>
<path d="M184.57 19.52L189.17 28.03L179.97 28.03Z" stroke="#b04a36" stroke-width="0.8" fill="none"/>
<path d="M192.29 14.23L196.89 22.74L187.69 22.74Z" stroke="#b04a36" stroke-width="0.8" fill="none"/>
<path d="M200.01 13.61L204.61 22.12L195.41 22.12Z" stroke="#b04a36" stroke-width="0.8" fill="none"/>
<path d="M207.73 13.95L212.33 22.46L203.13 22.46Z" stroke="#b04a36" stroke-width="0.8" fill="none"/>
<path d="M215.45 14.02L220.05 22.53L210.85 22.53Z" stroke="#b04a36" stroke-width="0.8" fill="none"/>
<path d="M223.17 13.95L227.77 22.46L218.57 22.46Z" stroke="#b04a36" stroke-width="0.8" fill="none"/>
<path d="M230.89 14.07L235.49 22.58L226.29 22.58Z" stroke="#b04a36" stroke-width="0.8" fill="none"/>
<path d="M238.61 14.29L243.21 22.80L234.01 22.80Z" stroke="#b04a36" stroke-width="0.8" fill="none"/>
<path d="M246.33 14.41L250.93 22.92L241.73 22.92Z" stroke="#b04a36" stroke-width="0.8" fill="none"/>
<path d="M254.05 14.29L258.65 22.80L249.45 22.80Z" stroke="#b04a36" stroke-width="0.8" fill="none"/>
<path d="M261.76 13.95L266.36 22.46L257.16 22.46Z" stroke="#b04a36" stroke-width="0.8" fill="none"/>
<path d="M269.48 13.57L274.08 22.08L264.88 22.08Z" stroke="#b04a36" stroke-width="0.8" fill="none"/>
<path d="M277.20 13.14L281.80 21.65L272.60 21.65Z" stroke="#b04a36" stroke-width="0.8" fill="none"/>
<path d="M284.92 12.63L289.52 21.14L280.32 21.14Z" stroke="#b04a36" stroke-width="0.8" fill="none"/>
<path d="M292.64 12.02L297.24 20.53L288.04 20.53Z" stroke="#b04a36" stroke-width="0.8" fill="none"/>
<path d="M300.36 11.37L304.96 19.88L295.76 19.88Z" stroke="#b04a36" stroke-width="0.8" fill="none"/>
<path d="M308.08 10.71L312.68 19.22L303.48 19.22Z" stroke="#b04a36" stroke-width="0.8" fill="none"/>
<path d="M315.80 10.06L320.40 18.57L311.20 18.57Z" stroke="#b04a36" stroke-width="0.8" fill="none"/>
<path d="M76.50 252.00L84.22 214.00L91.94 186.00L99.66 167.01L107.38 144.01L115.10 124.01L122.82 106.01L130.54 89.01L138.25 73.01L145.97 62.01L153.69 55.01L161.41 46.86L169.13 39.51L176.85 32.12L184.57 25.54L192.29 19.89L200.01 19.14L207.73 19.54L215.45 19.65L223.17 19.42L230.89 19.28L238.61 19.23L246.33 19.12L254.05 18.89L261.76 18.54L269.48 18.15L277.20 17.73L284.92 17.23L292.64 16.62L300.36 15.97L308.08 15.31L315.80 14.66" stroke="#30c030" stroke-width="0.7" fill="none" clip-path="url(#c)"/>
<path d="M76.50 256.60L81.10 248.09L71.90 248.09Z" stroke="#30c030" stroke-width="0.8" fill="none"/>
<path d="M84.22 218.60L88.82 210.09L79.62 210.09Z" stroke="#30c030" stroke-width="0.8" fill="none"/>
<path d="M91.94 190.60L96.54 182.09L87.34 182.09Z" stroke="#30c030" stroke-width="0.8" fill="none"/>
<path d="M99.66 171.61L104.26 163.10L95.06 163.10Z" stroke="#30c030" stroke-width="0.8" fill="none"/>
<path d="M107.38 148.61L111.98 140.10L102.78 140.10Z" stroke="#30c030" stroke-width="0.8" fill="none"/>
<path d="M115.10 128.61L119.70 120.10L110.50 120.10Z" stroke="#30c030" stroke-width="0.8" fill="none"/>
<path d="M122.82 110.61L127.42 102.10L118.22 102.10Z" stroke="#30c030" stroke-width="0.8" fill="none"/>
<path d="M130.54 93.61L135.14 85.10L125.94 85.10Z" stroke="#30c030" stroke-width="0.8" fill="none"/>
<path d="M138.25 77.61L142.85 69.10L133.65 69.10Z" stroke="#30c030" stroke-width="0.8" fill="none"/>
<path d="M145.97 66.61L150.57 58.10L141.37 58.10Z" stroke="#30c030" stroke-width="0.8" fill="none"/>
<path d="M153.69 59.61L158.29 51.10L149.09 51.10Z" stroke="#30c030" stroke-width="0.8" fill="none"/>
<path d="M161.41 51.46L166.01 42.95L156.81 42.95Z" stroke="#30c030" stroke-width="0.8" fill="none"/>
<path d="M169.13 44.11L173.73 35.60L164.53 35.60Z" stroke="#30c030" stroke-width="0.8" fill="none"/>
<path d="M176.85 36.72L181.45 28.21L172.25 28.21Z" stroke="#30c030" stroke-width="0.8" fill="none"/>
<path d="M184.57 30.14L189.17 21.63L179.97 21.63Z" stroke="#30c030" stroke-width="0.8" fill="none"/>
<path d="M192.29 24.49L196.89 15.98L187.69 15.98Z" stroke="#30c030" stroke-width="0.8" fill="none"/>
<path d="M200.01 23.74L204.61 15.23L195.41 15.23Z" stroke="#30c030" stroke-width="0.8" fill="none"/>
<path d="M207.73 24.14L212.33 15.63L203.13 15.63Z" stroke="#30c030" stroke-width="0.8" fill="none"/>
<path d="M215.45 24.25L220.05 15.74L210.85 15.74Z" stroke="#30c030" stroke-width="0.8" fill="none"/>
<path d="M223.17 24.02L227.77 15.51L218.57 15.51Z" stroke="#30c030" stroke-width="0.8" fill="none"/>
<path d="M230.89 23.88L235.49 15.37L226.29 15.37Z" stroke="#30c030" stroke-width="0.8" fill="none"/>
<path d="M238.61 23.83L243.21 15.32L234.01 15.32Z" stroke="#30c030" stroke-width="0.8" fill="none"/>
<path d="M246.33 23.72L250.93 15.21L241.73 15.21Z" stroke="#30c030" stroke-width="0.8" fill="none"/>
<path d="M254.05 23.49L258.65 14.98L249.45 14.98Z" stroke="#30c030" stroke-width="0.8" fill="none"/>
<path d="M261.76 23.14L266.36 14.63L257.16 14.63Z" stroke="#30c030" stroke-width="0.8" fill="none"/>
<path d="M269.48 22.75L274.08 14.24L264.88 14.24Z" stroke="#30c030" stroke-width="0.8" fill="none"/>
<path d="M277.20 22.33L281.80 13.82L272.60 13.82Z" stroke="#30c030" stroke-width="0.8" fill="none"/>
<path d="M284.92 21.83L289.52 13.32L280.32 13.32Z" stroke="#30c030" stroke-width="0.8" fill="none"/>
<path d="M292.64 21.22L297.24 12.71L288.04 12.71Z" stroke="#30c030" stroke-width="0.8" fill="none"/>
<path d="M300.36 20.57L304.96 12.06L295.76 12.06Z" stroke="#30c030" stroke-width="0.8" fill="none"/>
<path d="M308.08 19.91L312.68 11.40L303.48 11.40Z" stroke="#30c030" stroke-width="0.8" fill="none"/>
<path d="M315.80 19.26L320.40 10.75L311.20 10.75Z" stroke="#30c030" stroke-width="0.8" fill="none"/>
<path d="M76.50 200.00L84.22 160.00L91.94 130.00L99.66 106.01L107.38 94.00L115.10 86.00L122.82 80.00L130.54 75.00L138.25 70.00L145.97 65.00L153.69 60.00L161.41 55.21L169.13 51.26L176.85 46.45L184.57 41.41L192.29 36.05L200.01 33.18L207.73 28.90L215.45 25.10L223.17 23.57L230.89 22.45L238.61 21.55L246.33 20.74L254.05 19.92L261.76 19.02L269.48 18.08L277.20 17.17L284.92 16.33L292.64 15.62L300.36 14.97L308.08 14.31L315.80 13.66" stroke="#b034e0" stroke-width="0.7" fill="none" clip-path="url(#c)"/>
<path d="M81.10 200.00L72.59 204.60L72.59 195.40Z" stroke="#b034e0" stroke-width="0.8" fill="none"/>
<path d="M88.82 160.00L80.31 164.60L80.31 155.40Z" stroke="#b034e0" stroke-width="0.8" fill="none"/>
<path d="M96.54 130.00L88.03 134.60L88.03 125.40Z" stroke="#b034e0" stroke-width="0.8" fill="none"/>
<path d="M104.26 106.01L95.75 110.61L95.75 101.41Z" stroke="#b034e0" stroke-width="0.8" fill="none"/>
<path d="M111.98 94.00L103.47 98.60L103.47 89.40Z" stroke="#b034e0" stroke-width="0.8" fill="none"/>
<path d="M119.70 86.00L111.19 90.60L111.19 81.40Z" stroke="#b034e0" stroke-width="0.8" fill="none"/>
<path d="M127.42 80.00L118.91 84.60L118.91 75.40Z" stroke="#b034e0" stroke-width="0.8" fill="none"/>
<path d="M135.14 75.00L126.63 79.60L126.63 70.40Z" stroke="#b034e0" stroke-width="0.8" fill="none"/>
<path d="M142.85 70.00L134.34 74.60L134.34 65.40Z" stroke="#b034e0" stroke-width="0.8" fill="none"/>
<path d="M150.57 65.00L142.06 69.60L142.06 60.40Z" stroke="#b034e0" stroke-width="0.8" fill="none"/>
<path d="M158.29 60.00L149.78 64.60L149.78 55.40Z" stroke="#b034e0" stroke-width="0.8" fill="none"/>
<path d="M166.01 55.21L157.50 59.81L157.50 50.61Z" stroke="#b034e0" stroke-width="0.8" fill="none"/>
<path d="M173.73 51.26L165.22 55.86L165.22 46.66Z" stroke="#b034e0" stroke-width="0.8" fill="none"/>
<path d="M181.45 46.45L172.94 51.05L172.94 41.85Z" stroke="#b034e0" stroke-width="0.8" fill="none"/>
<path d="M189.17 41.41L180.66 46.01L180.66 36.81Z" stroke="#b034e0" stroke-width="0.8" fill="none"/>
<path d="M196.89 36.05L188.38 40.65L188.38 31.45Z" stroke="#b034e0" stroke-width="0.8" fill="none"/>
<path d="M204.61 33.18L196.10 37.78L196.10 28.58Z" stroke="#b034e0" stroke-width="0.8" fill="none"/>
<path d="M212.33 28.90L203.82 33.50L203.82 24.30Z" stroke="#b034e0" stroke-width="0.8" fill="none"/>
<path d="M220.05 25.10L211.54 29.70L211.54 20.50Z" stroke="#b034e0" stroke-width="0.8" fill="none"/>
<path d="M227.77 23.57L219.26 28.17L219.26 18.97Z" stroke="#b034e0" stroke-width="0.8" fill="none"/>
<path d="M235.49 22.45L226.98 27.05L226.98 17.85Z" stroke="#b034e0" stroke-width="0.8" fill="none"/>
<path d="M243.21 21.55L234.70 26.15L234.70 16.95Z" stroke="#b034e0" stroke-width="0.8" fill="none"/>
<path d="M250.93 20.74L242.42 25.34L242.42 16.14Z" stroke="#b034e0" stroke-width="0.8" fill="none"/>
<path d="M258.65 19.92L250.14 24.52L250.14 15.32Z" stroke="#b034e0" stroke-width="0.8" fill="none"/>
<path d="M266.36 19.02L257.85 23.62L257.85 14.42Z" stroke="#b034e0" stroke-width="0.8" fill="none"/>
<path d="M274.08 18.08L265.57 22.68L265.57 13.48Z" stroke="#b034e0" stroke-width="0.8" fill="none"/>
<path d="M281.80 17.17L273.29 21.77L273.29 12.57Z" stroke="#b034e0" stroke-width="0.8" fill="none"/>
<path d="M289.52 16.33L281.01 20.93L281.01 11.73Z" stroke="#b034e0" stroke-width="0.8" fill="none"/>
<path d="M297.24 15.62L288.73 20.22L288.73 11.02Z" stroke="#b034e0" stroke-width="0.8" fill="none"/>
<path d="M304.96 14.97L296.45 19.57L296.45 10.37Z" stroke="#b034e0" stroke-width="0.8" fill="none"/>
<path d="M312.68 14.31L304.17 18.91L304.17 9.71Z" stroke="#b034e0" stroke-width="0.8" fill="none"/>
<path d="M320.40 13.66L311.89 18.26L311.89 9.06Z" stroke="#b034e0" stroke-width="0.8" fill="none"/>
<path d="M76.50 180.00L84.34 149.48L92.18 124.42L100.02 106.97L107.85 96.52L115.69 88.30L123.53 81.63L131.37 75.37L139.21 70.26L147.05 65.39L154.89 60.05L162.73 53.96L170.56 48.20L178.40 42.21L186.24 36.47L194.08 31.32L201.92 27.74L209.76 22.24L217.60 18.56L225.44 17.16L233.27 16.04L241.11 15.13L248.95 14.35L256.79 13.68L264.63 13.00L272.47 12.33L280.31 11.66L288.15 11.00L295.98 10.34L303.82 9.68L311.66 9.01L319.50 8.35" stroke="#20c8ec" stroke-width="0.7" fill="none" clip-path="url(#c)"/>
<path d="M71.90 180.00L80.41 184.60L80.41 175.40Z" stroke="#20c8ec" stroke-width="0.8" fill="none"/>
<path d="M79.74 149.48L88.25 154.08L88.25 144.88Z" stroke="#20c8ec" stroke-width="0.8" fill="none"/>
<path d="M87.58 124.42L96.09 129.02L96.09 119.82Z" stroke="#20c8ec" stroke-width="0.8" fill="none"/>
<path d="M95.42 106.97L103.93 111.57L103.93 102.37Z" stroke="#20c8ec" stroke-width="0.8" fill="none"/>
<path d="M103.25 96.52L111.76 101.12L111.76 91.92Z" stroke="#20c8ec" stroke-width="0.8" fill="none"/>
<path d="M111.09 88.30L119.60 92.90L119.60 83.70Z" stroke="#20c8ec" stroke-width="0.8" fill="none"/>
<path d="M118.93 81.63L127.44 86.23L127.44 77.03Z" stroke="#20c8ec" stroke-width="0.8" fill="none"/>
<path d="M126.77 75.37L135.28 79.97L135.28 70.77Z" stroke="#20c8ec" stroke-width="0.8" fill="none"/>
<path d="M134.61 70.26L143.12 74.86L143.12 65.66Z" stroke="#20c8ec" stroke-width="0.8" fill="none"/>
<path d="M142.45 65.39L150.96 69.99L150.96 60.79Z" stroke="#20c8ec" stroke-width="0.8" fill="none"/>
<path d="M150.29 60.05L158.80 64.65L158.80 55.45Z" stroke="#20c8ec" stroke-width="0.8" fill="none"/>
<path d="M158.13 53.96L166.64 58.56L166.64 49.36Z" stroke="#20c8ec" stroke-width="0.8" fill="none"/>
<path d="M165.96 48.20L174.47 52.80L174.47 43.60Z" stroke="#20c8ec" stroke-width="0.8" fill="none"/>
<path d="M173.80 42.21L182.31 46.81L182.31 37.61Z" stroke="#20c8ec" stroke-width="0.8" fill="none"/>
<path d="M181.64 36.47L190.15 41.07L190.15 31.87Z" stroke="#20c8ec" stroke-width="0.8" fill="none"/>
<path d="M189.48 31.32L197.99 35.92L197.99 26.72Z" stroke="#20c8ec" stroke-width="0.8" fill="none"/>
<path d="M197.32 27.74L205.83 32.34L205.83 23.14Z" stroke="#20c8ec" stroke-width="0.8" fill="none"/>
<path d="M205.16 22.24L213.67 26.84L213.67 17.64Z" stroke="#20c8ec" stroke-width="0.8" fill="none"/>
<path d="M213.00 18.56L221.51 23.16L221.51 13.96Z" stroke="#20c8ec" stroke-width="0.8" fill="none"/>
<path d="M220.84 17.16L229.35 21.76L229.35 12.56Z" stroke="#20c8ec" stroke-width="0.8" fill="none"/>
<path d="M228.67 16.04L237.18 20.64L237.18 11.44Z" stroke="#20c8ec" stroke-width="0.8" fill="none"/>
<path d="M236.51 15.13L245.02 19.73L245.02 10.53Z" stroke="#20c8ec" stroke-width="0.8" fill="none"/>
<path d="M244.35 14.35L252.86 18.95L252.86 9.75Z" stroke="#20c8ec" stroke-width="0.8" fill="none"/>
<path d="M252.19 13.68L260.70 18.28L260.70 9.08Z" stroke="#20c8ec" stroke-width="0.8" fill="none"/>
<path d="M260.03 13.00L268.54 17.60L268.54 8.40Z" stroke="#20c8ec" stroke-width="0.8" fill="none"/>
<path d="M267.87 12.33L276.38 16.93L276.38 7.73Z" stroke="#20c8ec" stroke-width="0.8" fill="none"/>
<path d="M275.71 11.66L284.22 16.26L284.22 7.06Z" stroke="#20c8ec" stroke-width="0.8" fill="none"/>
<path d="M283.55 11.00L292.06 15.60L292.06 6.40Z" stroke="#20c8ec" stroke-width="0.8" fill="none"/>
<path d="M291.38 10.34L299.89 14.94L299.89 5.74Z" stroke="#20c8ec" stroke-width="0.8" fill="none"/>
<path d="M299.22 9.68L307.73 14.28L307.73 5.08Z" stroke="#20c8ec" stroke-width="0.8" fill="none"/>
<path d="M307.06 9.01L315.57 13.61L315.57 4.41Z" stroke="#20c8ec" stroke-width="0.8" fill="none"/>
<path d="M76.50 272.00L77.74 266.57L78.98 260.71L80.22 254.45L81.46 247.59L82.71 240.00L83.95 232.28L85.19 225.06L86.43 218.48L87.67 212.19L88.91 206.15L90.15 200.33L91.39 194.74L92.64 189.55L93.88 184.85L95.12 180.42L96.36 175.96L97.60 171.19L98.84 165.74L100.08 160.02L101.32 154.67L102.57 150.35L103.81 146.84L105.05 143.73L106.29 140.76L107.53 137.66L108.77 134.56L110.01 131.49L111.25 128.48L112.49 125.54L113.74 122.59L114.98 119.65L116.22 116.77L117.46 114.02L118.70 111.46L119.94 109.15L121.18 107.08L122.42 105.15L123.67 103.26L124.91 101.32L126.15 99.24L127.39 96.95L128.63 94.55L129.87 92.19L131.11 90.01L132.35 88.06L133.60 86.23L134.84 84.44L136.08 82.63L137.32 80.73L138.56 78.73L139.80 76.69L141.04 74.69L142.28 72.77L143.53 71.02L144.77 69.46L146.01 68.04L147.25 66.72L148.49 65.46L149.73 64.23L150.97 62.97L152.21 61.67L153.45 60.33L154.70 58.97L155.94 57.62L157.18 56.27L158.42 54.94L159.66 53.65L160.90 52.40L162.14 51.18L163.38 49.99L164.63 48.81L165.87 47.63L167.11 46.44L168.35 45.27L169.59 44.10L170.83 42.92L172.07 41.73L173.31 40.52L174.56 39.30L175.80 38.09L177.04 36.92L178.28 35.76L179.52 34.61L180.76 33.46L182.00 32.30L183.24 31.12L184.48 29.92L185.73 28.75L186.97 27.62L188.21 26.51L189.45 25.44L190.69 24.36L191.93 23.35L193.17 22.68L194.41 22.20L195.66 21.86L196.90 21.68L198.14 21.54L199.38 21.44L200.62 21.35L201.86 21.26L203.10 21.15L204.34 21.04L205.59 20.92L206.83 20.81L208.07 20.69L209.31 20.57L210.55 20.44L211.79 20.30L213.03 20.16L214.27 20.00L215.52 19.84L216.76 19.68L218.00 19.52L219.24 19.35L220.48 19.19L221.72 19.02L222.96 18.86L224.20 18.70L225.44 18.55L226.69 18.40L227.93 18.26L229.17 18.13L230.41 18.00L231.65 17.88L232.89 17.76L234.13 17.64L235.37 17.52L236.62 17.40L237.86 17.29L239.10 17.18L240.34 17.07L241.58 16.96L242.82 16.85L244.06 16.74L245.30 16.64L246.55 16.53L247.79 16.43L249.03 16.33L250.27 16.22L251.51 16.12L252.75 16.02L253.99 15.91L255.23 15.81L256.47 15.70L257.72 15.60L258.96 15.49L260.20 15.38L261.44 15.27L262.68 15.17L263.92 15.06L265.16 14.95L266.40 14.85L267.65 14.74L268.89 14.63L270.13 14.53L271.37 14.42L272.61 14.32L273.85 14.21L275.09 14.11L276.33 14.00L277.58 13.89L278.82 13.79L280.06 13.68L281.30 13.58L282.54 13.47L283.78 13.37L285.02 13.27L286.26 13.16L287.51 13.06L288.75 12.95L289.99 12.85L291.23 12.74L292.47 12.64L293.71 12.53L294.95 12.43L296.19 12.32L297.43 12.22L298.68 12.11L299.92 12.01L301.16 11.90L302.40 11.80L303.64 11.69L304.88 11.59L306.12 11.48L307.36 11.38L308.61 11.27L309.85 11.16L311.09 11.06L312.33 10.95L313.57 10.85L314.81 10.74L316.05 10.64L317.29 10.53L318.54 10.43L319.78 10.32L321.02 10.22L322.26 10.11L323.50 10.01" stroke="#000" stroke-width="3" fill="none" stroke-linejoin="round" clip-path="url(#c)"/>
<text x="87.40" y="362.9" font-size="18" text-anchor="middle">1</text>
<text x="133.82" y="362.9" font-size="18" text-anchor="middle">1.5</text>
<text x="180.24" y="362.9" font-size="18" text-anchor="middle">2</text>
<text x="226.66" y="362.9" font-size="18" text-anchor="middle">2.5</text>
<text x="273.08" y="362.9" font-size="18" text-anchor="middle">3</text>
<text x="319.50" y="362.9" font-size="18" text-anchor="middle">3.5</text>
<text x="67.6" y="71.70" font-size="18" text-anchor="end">-20</text>
<text x="67.6" y="131.28" font-size="18" text-anchor="end">-40</text>
<text x="67.6" y="190.86" font-size="18" text-anchor="end">-60</text>
<text x="67.6" y="250.44" font-size="18" text-anchor="end">-80</text>
<text x="67.6" y="310.02" font-size="18" text-anchor="end">-100</text>
<text x="174.8" y="385.2" font-size="18">E</text><text x="189.6" y="385.2" font-size="18" letter-spacing="0.7">(eV)</text>
<g transform="translate(18.7,205) rotate(-90)">
<path transform="translate(0.30,0) scale(0.00876,-0.00853)" d="M707 1188Q864 1265 913 1286Q1033 1348 1108 1405Q1372 1270 1372 1108Q1372 927 1108 795Q1194 724 1227 549Q1244 403 1257 260Q1277 123 1329 123Q1370 123 1417 164L1438 137L1200 -43Q1055 68 1055 266Q1055 296 1058 364Q1061 430 1061 467Q1061 619 940 709L741 631L743 498L740 438L730 383Q700 264 600 168Q546 116 293 -43L143 115L76 72L51 100L287 250L432 94Q555 154 555 395V930Q555 1122 530 1198Q485 1343 338 1343Q250 1343 180 1288Q104 1229 104 1143Q104 1064 232 945Q360 829 360 729Q360 579 190 479L182 512Q256 551 256 606Q256 685 128 807Q0 927 0 1020Q0 1173 119 1280Q237 1386 393 1386Q608 1386 707 1188ZM721 1149Q754 1020 754 866Q754 783 743 678Q957 758 1022 797Q1182 894 1182 1028Q1182 1237 979 1237Q867 1237 721 1149Z" fill="#262626" stroke="#262626" stroke-width="39.9"/>
<text x="12.6" y="0" font-size="18">(</text>
<text transform="translate(16.5,0) scale(1.33,1)" x="0" y="0" font-size="18" font-family="Liberation Serif">&#949;</text>
<text x="28.0" y="0" font-size="18">(Cu))</text>
</g>
<rect x="336.5" y="9.5" width="205.00" height="275.00" fill="#fff" stroke="#6a6a6a" stroke-width="1"/>
<path d="M342.7 24.60H375.2" stroke="#0000ff" stroke-width="0.9"/>
<path d="M354.50 24.60H363.50M359.00 20.10V29.10" stroke="#0000ff" stroke-width="0.8" fill="none"/>
<text x="381.8" y="31.40" font-size="18" letter-spacing="-0.2">A010nmCut0</text>
<path d="M342.7 49.12H375.2" stroke="#b04a36" stroke-width="0.9"/>
<circle cx="359.00" cy="49.12" r="4.1" stroke="#b04a36" stroke-width="0.8" fill="none"/>
<text x="381.8" y="55.92" font-size="18" letter-spacing="-0.2">A010nm22min120</text>
<path d="M342.7 73.64H375.2" stroke="#30c030" stroke-width="0.9"/>
<path d="M355.00 73.64H363.00M359.00 69.64V77.64M356.17 70.81L361.83 76.47M356.17 76.47L361.83 70.81" stroke="#30c030" stroke-width="0.8" fill="none"/>
<text x="381.8" y="80.44" font-size="18" letter-spacing="-0.2">A010nm72min120</text>
<path d="M342.7 98.16H375.2" stroke="#b034e0" stroke-width="0.9"/>
<path d="M354.60 93.76L363.40 102.56M354.60 102.56L363.40 93.76" stroke="#b034e0" stroke-width="0.8" fill="none"/>
<text x="381.8" y="104.96" font-size="18" letter-spacing="-0.2">A010nm102min120</text>
<path d="M342.7 122.68H375.2" stroke="#20c8ec" stroke-width="0.9"/>
<rect x="354.50" y="118.18" width="9.00" height="9.00" stroke="#20c8ec" stroke-width="0.8" fill="none"/>
<text x="381.8" y="129.48" font-size="18" letter-spacing="-0.2">A010nm160min120</text>
<path d="M342.7 147.20H375.2" stroke="#0000ff" stroke-width="0.9"/>
<path d="M359.00 142.80L363.40 147.20L359.00 151.60L354.60 147.20Z" stroke="#0000ff" stroke-width="0.8" fill="none"/>
<text x="381.8" y="154.00" font-size="18" letter-spacing="-0.2">A010nm190min120</text>
<path d="M342.7 171.72H375.2" stroke="#b04a36" stroke-width="0.9"/>
<path d="M359.00 167.12L363.60 175.63L354.40 175.63Z" stroke="#b04a36" stroke-width="0.8" fill="none"/>
<text x="381.8" y="178.52" font-size="18" letter-spacing="-0.2">A010nm240min130</text>
<path d="M342.7 196.24H375.2" stroke="#30c030" stroke-width="0.9"/>
<path d="M359.00 200.84L363.60 192.33L354.40 192.33Z" stroke="#30c030" stroke-width="0.8" fill="none"/>
<text x="381.8" y="203.04" font-size="18" letter-spacing="-0.2">A010nm600min130</text>
<path d="M342.7 220.76H375.2" stroke="#b034e0" stroke-width="0.9"/>
<path d="M363.60 220.76L355.09 225.36L355.09 216.16Z" stroke="#b034e0" stroke-width="0.8" fill="none"/>
<text x="381.8" y="227.56" font-size="18" letter-spacing="-0.2">A010nm900min170</text>
<path d="M342.7 245.28H375.2" stroke="#20c8ec" stroke-width="0.9"/>
<path d="M354.40 245.28L362.91 249.88L362.91 240.68Z" stroke="#20c8ec" stroke-width="0.8" fill="none"/>
<text x="381.8" y="252.08" font-size="18" letter-spacing="-0.2">A010nm910min170</text>
<path d="M342.7 269.80H375.2" stroke="#000" stroke-width="3"/>
<text x="381.8" y="276.60" font-size="18">Ref</text>
</svg></body></html>
